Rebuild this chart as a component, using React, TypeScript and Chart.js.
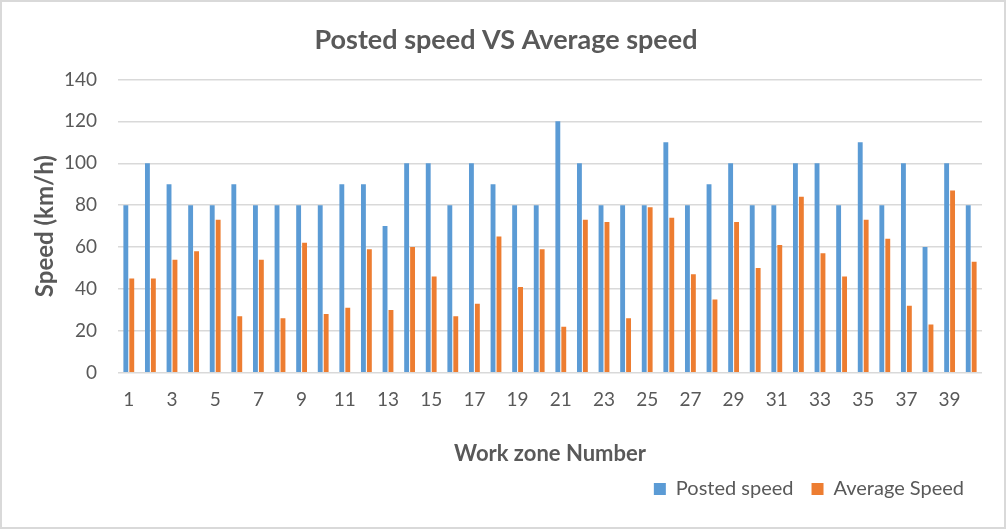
import React, { useEffect, useRef } from "react";
import { Chart, registerables } from "chart.js";

Chart.register(...registerables);

// work zone numbers 1..40
const zones = [
  "1", "2", "3", "4", "5", "6", "7", "8", "9", "10",
  "11", "12", "13", "14", "15", "16", "17", "18", "19", "20",
  "21", "22", "23", "24", "25", "26", "27", "28", "29", "30",
  "31", "32", "33", "34", "35", "36", "37", "38", "39", "40",
];

const postedSpeed = [
  80, 100, 90, 80, 80, 90, 80, 80, 80, 80,
  90, 90, 70, 100, 100, 80, 100, 90, 80, 80,
  120, 100, 80, 80, 80, 110, 80, 90, 100, 80,
  80, 100, 100, 80, 110, 80, 100, 60, 100, 80,
];

const averageSpeed = [
  45, 45, 54, 58, 73, 27, 54, 26, 62, 28,
  31, 59, 30, 60, 46, 27, 33, 65, 41, 59,
  22, 73, 72, 26, 79, 74, 47, 35, 72, 50,
  61, 84, 57, 46, 73, 64, 32, 23, 87, 53,
];

const FONT = "Lato, 'Open Sans', sans-serif";
const TEXT = "#595959";

export default function App() {
  const chartRef = useRef<HTMLCanvasElement | null>(null);
  const chartInstanceRef = useRef<Chart<"bar"> | null>(null);

  useEffect(() => {
    document.body.style.margin = "0";
    if (!chartRef.current) return;
    const ctx = chartRef.current.getContext("2d");
    if (!ctx) return;

    if (chartInstanceRef.current) {
      chartInstanceRef.current.destroy();
    }

    chartInstanceRef.current = new Chart(ctx, {
      type: "bar",
      data: {
        labels: zones,
        datasets: [
          {
            label: "Posted speed",
            data: postedSpeed,
            backgroundColor: "#5B9BD5",
            categoryPercentage: 0.55,
            barPercentage: 0.82,
          },
          {
            label: "Average Speed",
            data: averageSpeed,
            backgroundColor: "#ED7D31",
            categoryPercentage: 0.55,
            barPercentage: 0.82,
          },
        ],
      },
      options: {
        animation: false,
        responsive: false,
        maintainAspectRatio: false,
        // left padding keeps the title centred like the original
        layout: { padding: { left: 28, right: 22, top: 0, bottom: 18 } },
        plugins: {
          title: {
            display: true,
            text: "Posted speed VS Average speed",
            color: TEXT,
            font: { family: FONT, size: 27, weight: "bold" },
            padding: { top: 22, bottom: 23 },
          },
          legend: {
            position: "bottom",
            align: "end",
            labels: {
              color: TEXT,
              font: { family: FONT, size: 20 },
              boxWidth: 12,
              boxHeight: 12,
              padding: 18,
            },
          },
          tooltip: { enabled: false },
        },
        scales: {
          x: {
            grid: { display: false, drawTicks: false },
            border: { display: false },
            ticks: {
              color: TEXT,
              font: { family: FONT, size: 19 },
              autoSkip: false,
              maxRotation: 0,
              padding: 16,
              callback: (_v, i) => (i % 2 === 0 ? zones[i] : ""),
            },
            title: {
              display: true,
              text: "Work zone Number",
              color: TEXT,
              font: { family: FONT, size: 22, weight: "bold" },
              padding: { top: 13, bottom: -6 },
            },
          },
          y: {
            min: 0,
            max: 140,
            grid: { color: "#D9D9D9", lineWidth: 1.4, drawTicks: false },
            border: { display: false },
            ticks: {
              stepSize: 20,
              color: TEXT,
              font: { family: FONT, size: 19 },
              padding: 21,
            },
            title: {
              display: true,
              text: "Speed (km/h)",
              color: TEXT,
              font: { family: FONT, size: 24, weight: "bold" },
              padding: { top: 1, bottom: 0 },
            },
            afterFit: (scale) => {
              scale.width = 88;
            },
          },
        },
      },
    });

    return () => {
      if (chartInstanceRef.current) {
        chartInstanceRef.current.destroy();
      }
    };
  }, []);

  return (
    <div
      style={{
        width: 1006,
        height: 529,
        boxSizing: "border-box",
        border: "2px solid #D9D9D9",
        background: "#fff",
      }}
    >
      <canvas ref={chartRef} width={1002} height={525} style={{ display: "block" }} />
    </div>
  );
}
